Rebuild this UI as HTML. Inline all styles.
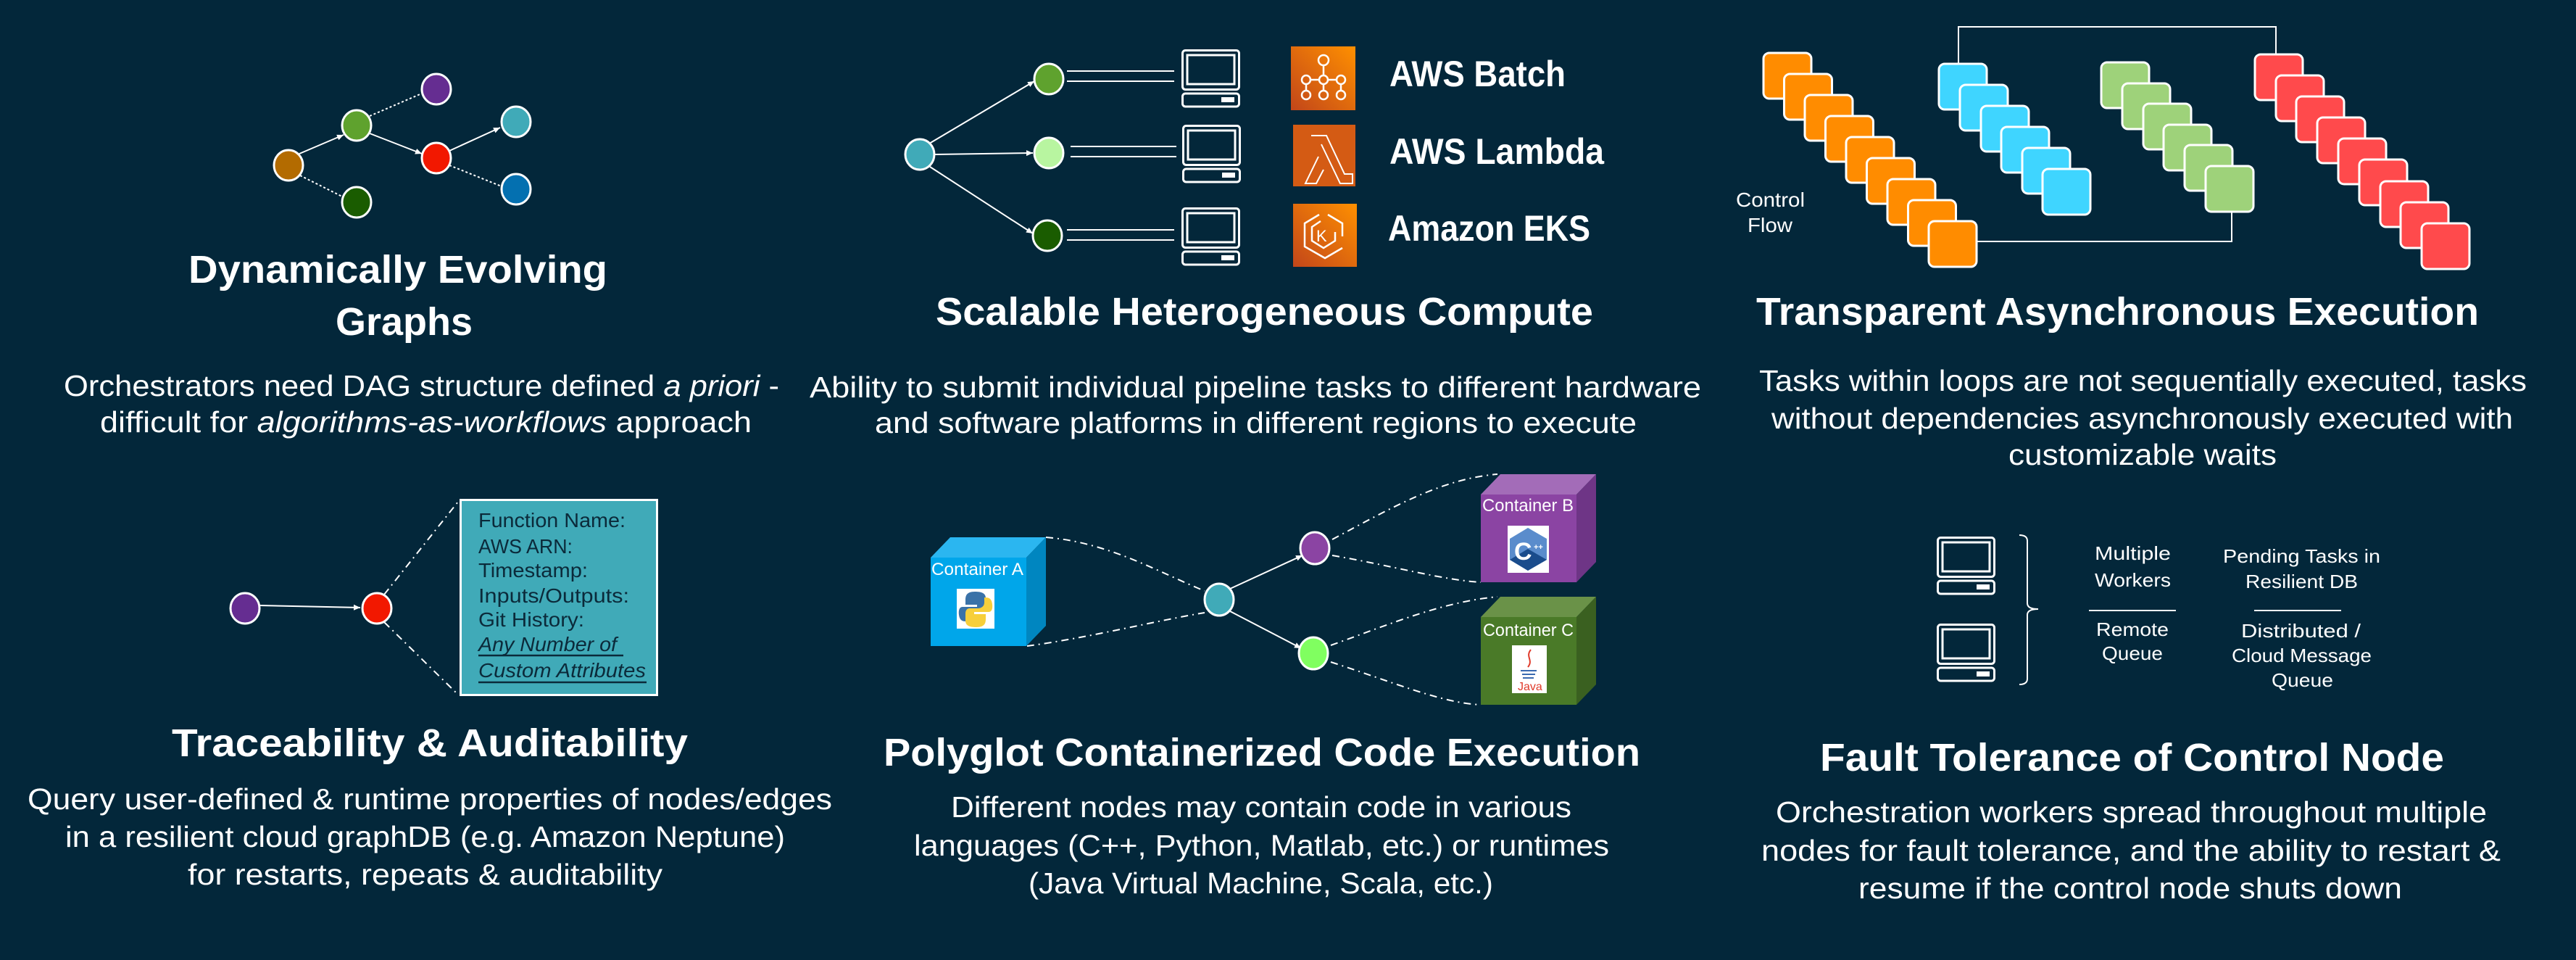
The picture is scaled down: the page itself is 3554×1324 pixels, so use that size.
<!DOCTYPE html>
<html><head><meta charset="utf-8"><style>
html,body{margin:0;padding:0;background:#03273a;}
svg{display:block;}
text{font-family:"Liberation Sans",sans-serif;fill:#fff;}
.t{font-weight:bold;font-size:54px;}
.b{font-size:41px;}
</style></head><body>
<svg width="3554" height="1324" viewBox="0 0 3554 1324" xmlns="http://www.w3.org/2000/svg">
<defs>
<marker id="ar" markerWidth="10" markerHeight="10" refX="9" refY="5" orient="auto" markerUnits="userSpaceOnUse"><path d="M0,1 L9,5 L0,9 z" fill="#fff"/></marker>
<linearGradient id="og" x1="0" y1="1" x2="1" y2="0"><stop offset="0" stop-color="#c2461a"/><stop offset="1" stop-color="#ff9000"/></linearGradient>
<g id="pc" fill="none" stroke="#fff" stroke-width="3">
<rect x="1.5" y="1.5" width="78" height="54" rx="4"/>
<rect x="8" y="8" width="65" height="40"/>
<rect x="1.5" y="61" width="78" height="18" rx="4"/>
<rect x="55" y="66" width="18" height="7" fill="#fff" stroke="none"/>
</g>
</defs>
<rect width="3554" height="1324" fill="#03273a"/>

<!-- Panel 1 -->
<g stroke="#fff" stroke-width="2" fill="none">
<line x1="413" y1="212" x2="474" y2="186" marker-end="url(#ar)"/>
<line x1="510" y1="184" x2="582" y2="212" marker-end="url(#ar)"/>
<line x1="620" y1="208" x2="690" y2="176" marker-end="url(#ar)"/>
<line x1="510" y1="160" x2="584" y2="128" stroke-dasharray="3 3"/>
<line x1="620" y1="228" x2="692" y2="257" stroke-dasharray="3 3"/>
<line x1="414" y1="242" x2="474" y2="272" stroke-dasharray="3 3"/>
</g>
<g stroke="#fff" stroke-width="3">
<ellipse cx="398" cy="228" rx="20" ry="21" fill="#b36b00"/>
<ellipse cx="492" cy="173" rx="20" ry="21" fill="#5fa22e"/>
<ellipse cx="602" cy="123" rx="20" ry="21" fill="#652d91"/>
<ellipse cx="602" cy="218" rx="20" ry="21" fill="#f21800"/>
<ellipse cx="712" cy="168" rx="20" ry="21" fill="#40aab8"/>
<ellipse cx="712" cy="261" rx="20" ry="21" fill="#0470b0"/>
<ellipse cx="492" cy="279" rx="20" ry="21" fill="#1a5c00"/>
</g>
<text class="t" x="260" y="390" textLength="578" lengthAdjust="spacingAndGlyphs">Dynamically Evolving</text>
<text class="t" x="463" y="462" textLength="189" lengthAdjust="spacingAndGlyphs">Graphs</text>
<text class="b" x="88" y="546" textLength="987" lengthAdjust="spacingAndGlyphs">Orchestrators need DAG structure defined <tspan font-style="italic">a priori</tspan> -</text>
<text class="b" x="138" y="596" textLength="899" lengthAdjust="spacingAndGlyphs">difficult for <tspan font-style="italic">algorithms-as-workflows</tspan> approach</text>

<!-- Panel 2 -->
<g stroke="#fff" stroke-width="2" fill="none">
<line x1="1282" y1="198" x2="1427" y2="112" marker-end="url(#ar)"/>
<line x1="1290" y1="213" x2="1425" y2="211" marker-end="url(#ar)"/>
<line x1="1283" y1="230" x2="1425" y2="322" marker-end="url(#ar)"/>
<line x1="1472" y1="98" x2="1620" y2="98"/><line x1="1472" y1="112" x2="1620" y2="112"/>
<line x1="1477" y1="202" x2="1623" y2="202"/><line x1="1477" y1="216" x2="1623" y2="216"/>
<line x1="1472" y1="317" x2="1620" y2="317"/><line x1="1472" y1="331" x2="1620" y2="331"/>
</g>
<g stroke="#fff" stroke-width="3">
<ellipse cx="1269" cy="213" rx="20" ry="21" fill="#40aab8"/>
<ellipse cx="1447" cy="109" rx="20" ry="21" fill="#5fa22e"/>
<ellipse cx="1447" cy="211" rx="20" ry="21" fill="#b8f5a0"/>
<ellipse cx="1445" cy="325" rx="20" ry="21" fill="#1a5c00"/>
</g>
<use href="#pc" x="1630" y="68"/>
<use href="#pc" x="1631" y="172"/>
<use href="#pc" x="1630" y="286"/>
<rect x="1781" y="64" width="89" height="88" fill="url(#og)"/>
<g fill="none" stroke="#fff" stroke-width="2.5">
<circle cx="1826" cy="83" r="7"/><circle cx="1802" cy="110" r="6"/><circle cx="1826" cy="110" r="6"/><circle cx="1850" cy="110" r="6"/>
<circle cx="1802" cy="131" r="6"/><circle cx="1826" cy="131" r="6"/><circle cx="1850" cy="131" r="6"/>
<path d="M1826,90V104M1808,110H1820M1832,110H1844M1802,116V125M1826,116V125M1850,116V125"/>
</g>
<rect x="1784" y="172" width="86" height="85" fill="#d45b14"/>
<path d="M1809,187H1830L1855,240H1866V253H1849L1823,199 M1819,216L1801,253H1816L1826,234" fill="none" stroke="#fff" stroke-width="2"/>
<rect x="1784" y="281" width="88" height="87" fill="url(#og)"/>
<g fill="none" stroke="#fff" stroke-width="2.5">
<path d="M1820,296L1800,308V340L1828,356L1852,342M1832,296L1852,308V326"/>
<path d="M1822,305L1810,313V332L1826,342L1842,332V320"/>
</g>
<text x="1816" y="333" font-size="22" style="fill:#fff">K</text>
<text x="1917" y="119" font-weight="bold" font-size="50" textLength="243" lengthAdjust="spacingAndGlyphs">AWS Batch</text>
<text x="1917" y="226" font-weight="bold" font-size="50" textLength="296" lengthAdjust="spacingAndGlyphs">AWS Lambda</text>
<text x="1915" y="332" font-weight="bold" font-size="50" textLength="279" lengthAdjust="spacingAndGlyphs">Amazon EKS</text>
<text class="t" x="1291" y="448" textLength="907" lengthAdjust="spacingAndGlyphs">Scalable Heterogeneous Compute</text>
<text class="b" x="1117" y="548" textLength="1230" lengthAdjust="spacingAndGlyphs">Ability to submit individual pipeline tasks to different hardware</text>
<text class="b" x="1207" y="597" textLength="1051" lengthAdjust="spacingAndGlyphs">and software platforms in different regions to execute</text>

<!-- Panel 3 -->
<g stroke="#fff" stroke-width="2" fill="none">
<polyline points="2702,90 2702,37 3140,37 3140,77"/>
<polyline points="2728,333 3079,333 3079,292"/>
</g>
<g stroke="#fff" stroke-width="3">
<g fill="#ff8c00">
<rect x="2433" y="73" width="66" height="63" rx="8"/><rect x="2461.5" y="102" width="66" height="63" rx="8"/><rect x="2490" y="131" width="66" height="63" rx="8"/><rect x="2518.5" y="160" width="66" height="63" rx="8"/><rect x="2547" y="189" width="66" height="63" rx="8"/><rect x="2575.5" y="218" width="66" height="63" rx="8"/><rect x="2604" y="247" width="66" height="63" rx="8"/><rect x="2632.5" y="276" width="66" height="63" rx="8"/><rect x="2661" y="305" width="66" height="63" rx="8"/>
</g>
<g fill="#3fd5ff">
<rect x="2675" y="88" width="66" height="63" rx="8"/><rect x="2704" y="117" width="66" height="63" rx="8"/><rect x="2733" y="146" width="66" height="63" rx="8"/><rect x="2761" y="175" width="66" height="63" rx="8"/><rect x="2790" y="204" width="66" height="63" rx="8"/><rect x="2818" y="233" width="66" height="63" rx="8"/>
</g>
<g fill="#9ed27a">
<rect x="2899" y="86" width="66" height="63" rx="8"/><rect x="2928" y="115" width="66" height="63" rx="8"/><rect x="2957" y="143" width="66" height="63" rx="8"/><rect x="2985" y="172" width="66" height="63" rx="8"/><rect x="3014" y="200" width="66" height="63" rx="8"/><rect x="3043" y="229" width="66" height="63" rx="8"/>
</g>
<g fill="#ff4a4c">
<rect x="3111" y="75" width="66" height="63" rx="8"/><rect x="3140" y="104" width="66" height="63" rx="8"/><rect x="3168" y="133" width="66" height="63" rx="8"/><rect x="3197" y="162" width="66" height="63" rx="8"/><rect x="3226" y="191" width="66" height="63" rx="8"/><rect x="3255" y="220" width="66" height="63" rx="8"/><rect x="3284" y="250" width="66" height="63" rx="8"/><rect x="3312" y="279" width="66" height="63" rx="8"/><rect x="3341" y="308" width="66" height="63" rx="8"/>
</g>
</g>
<text x="2395" y="285" font-size="28" textLength="95" lengthAdjust="spacingAndGlyphs">Control</text>
<text x="2411" y="320" font-size="28" textLength="62" lengthAdjust="spacingAndGlyphs">Flow</text>
<text class="t" x="2423" y="448" textLength="997" lengthAdjust="spacingAndGlyphs">Transparent Asynchronous Execution</text>
<text class="b" x="2427" y="539" textLength="1059" lengthAdjust="spacingAndGlyphs">Tasks within loops are not sequentially executed, tasks</text>
<text class="b" x="2444" y="591" textLength="1023" lengthAdjust="spacingAndGlyphs">without dependencies asynchronously executed with</text>
<text class="b" x="2771" y="641" textLength="370" lengthAdjust="spacingAndGlyphs">customizable waits</text>

<!-- Panel 4 -->
<g stroke="#fff" stroke-width="2" fill="none">
<line x1="358" y1="835" x2="497" y2="838" marker-end="url(#ar)"/>
<line x1="530" y1="820" x2="632" y2="692" stroke-dasharray="10 6 2 6"/>
<line x1="530" y1="858" x2="632" y2="958" stroke-dasharray="10 6 2 6"/>
</g>
<g stroke="#fff" stroke-width="3">
<ellipse cx="338" cy="839" rx="20" ry="21" fill="#652d91"/>
<ellipse cx="520" cy="839" rx="20" ry="21" fill="#f21800"/>
</g>
<rect x="635.5" y="689.5" width="271" height="269" fill="#40aab8" stroke="#fff" stroke-width="3"/>
<g font-size="28" style="fill:#0b2a3a">
<text x="660" y="727" textLength="203" lengthAdjust="spacingAndGlyphs" style="fill:#0b2a3a">Function Name:</text>
<text x="660" y="763" textLength="130" lengthAdjust="spacingAndGlyphs" style="fill:#0b2a3a">AWS ARN:</text>
<text x="660" y="796" textLength="151" lengthAdjust="spacingAndGlyphs" style="fill:#0b2a3a">Timestamp:</text>
<text x="660" y="831" textLength="208" lengthAdjust="spacingAndGlyphs" style="fill:#0b2a3a">Inputs/Outputs:</text>
<text x="660" y="864" textLength="146" lengthAdjust="spacingAndGlyphs" style="fill:#0b2a3a">Git History:</text>
<text x="660" y="898" font-style="italic" textLength="191" lengthAdjust="spacingAndGlyphs" style="fill:#0b2a3a">Any Number of</text>
<text x="660" y="934" font-style="italic" textLength="231" lengthAdjust="spacingAndGlyphs" style="fill:#0b2a3a">Custom Attributes</text>
</g>
<line x1="660" y1="904" x2="860" y2="904" stroke="#0b2a3a" stroke-width="2.5"/>
<line x1="660" y1="941" x2="892" y2="941" stroke="#0b2a3a" stroke-width="2.5"/>
<text class="t" x="237" y="1043" textLength="712" lengthAdjust="spacingAndGlyphs">Traceability &amp; Auditability</text>
<text class="b" x="38" y="1116" textLength="1110" lengthAdjust="spacingAndGlyphs">Query user-defined &amp; runtime properties of nodes/edges</text>
<text class="b" x="90" y="1168" textLength="993" lengthAdjust="spacingAndGlyphs">in a resilient cloud graphDB (e.g. Amazon Neptune)</text>
<text class="b" x="259" y="1220" textLength="655" lengthAdjust="spacingAndGlyphs">for restarts, repeats &amp; auditability</text>

<!-- Panel 5 -->
<g stroke="#fff" stroke-width="2" fill="none" stroke-dasharray="10 6 2 6">
<path d="M1443,741 C1530,748 1600,790 1662,815"/>
<path d="M1417,891 C1500,880 1600,855 1662,845"/>
<path d="M1838,744 C1920,700 1990,660 2066,654"/>
<path d="M1838,766 C1920,780 1990,800 2043,803"/>
<path d="M1836,890 C1920,860 1990,830 2066,823"/>
<path d="M1836,913 C1920,940 1990,970 2043,972"/>
</g>
<g stroke="#fff" stroke-width="2" fill="none">
<line x1="1697" y1="812" x2="1797" y2="766" marker-end="url(#ar)"/>
<line x1="1697" y1="843" x2="1795" y2="894" marker-end="url(#ar)"/>
</g>
<g stroke="#fff" stroke-width="3">
<ellipse cx="1682" cy="827" rx="20" ry="22" fill="#40aab8"/>
<ellipse cx="1814" cy="756" rx="20" ry="22" fill="#8b44a3"/>
<ellipse cx="1812" cy="901" rx="20" ry="22" fill="#80ff60"/>
</g>
<!-- Container A -->
<polygon points="1284,769 1311,741 1443,741 1416,769" fill="#2bb6f0"/>
<polygon points="1416,769 1443,741 1443,863 1416,891" fill="#0086c0"/>
<rect x="1284" y="769" width="132" height="122" fill="#00a6ea"/>
<text x="1285" y="793" font-size="24" textLength="127" lengthAdjust="spacingAndGlyphs">Container A</text>
<rect x="1320" y="812" width="52" height="55" fill="#fff"/>
<path d="M1345,816 C1333,816 1332,822 1332,828 V834 H1348 V837 H1328 C1322,837 1322,846 1324,852 C1326,857 1330,857 1334,857 V850 C1334,845 1338,842 1343,842 H1354 C1358,842 1360,839 1360,835 V825 C1360,818 1354,816 1345,816Z" fill="#3a72a8"/>
<path d="M1347,865 C1359,865 1360,859 1360,853 V847 H1344 V844 H1364 C1370,844 1370,835 1368,829 C1366,824 1362,824 1358,824 V831 C1358,836 1354,839 1349,839 H1338 C1334,839 1332,842 1332,846 V856 C1332,863 1338,865 1347,865Z" fill="#f7cf3a"/>
<!-- Container B -->
<polygon points="2043,682 2070,654 2202,654 2175,682" fill="#a36cb8"/>
<polygon points="2175,682 2202,654 2202,775 2175,803" fill="#6e3586"/>
<rect x="2043" y="682" width="132" height="121" fill="#8b44a3"/>
<text x="2045" y="705" font-size="24" textLength="126" lengthAdjust="spacingAndGlyphs">Container B</text>
<rect x="2080" y="725" width="57" height="65" fill="#fff"/>
<polygon points="2108,728 2134,743 2134,772 2108,787 2083,772 2083,743" fill="#5a8ccc"/>
<polygon points="2108,757 2134,772 2108,787 2083,772" fill="#1a4c8c"/>
<text x="2089" y="772" font-size="34" font-weight="bold">C</text>
<text x="2116" y="758" font-size="11" font-weight="bold">++</text>
<!-- Container C -->
<polygon points="2043,851 2070,823 2202,823 2175,851" fill="#6a9248"/>
<polygon points="2175,851 2202,823 2202,944 2175,972" fill="#3a6020"/>
<rect x="2043" y="851" width="132" height="121" fill="#4a7a28"/>
<text x="2046" y="877" font-size="24" textLength="125" lengthAdjust="spacingAndGlyphs">Container C</text>
<rect x="2086" y="890" width="48" height="66" fill="#fff"/>
<path d="M2112,896 C2104,906 2116,910 2108,920" stroke="#e03a2a" stroke-width="2" fill="none"/>
<path d="M2098,925 H2120 M2100,930 H2118 M2101,935 H2116" stroke="#3a6ab0" stroke-width="2"/>
<text x="2094" y="952" font-size="16" style="fill:#e03a2a">Java</text>
<text class="t" x="1219" y="1056" textLength="1044" lengthAdjust="spacingAndGlyphs">Polyglot Containerized Code Execution</text>
<text class="b" x="1312" y="1127" textLength="856" lengthAdjust="spacingAndGlyphs">Different nodes may contain code in various</text>
<text class="b" x="1261" y="1180" textLength="959" lengthAdjust="spacingAndGlyphs">languages (C++, Python, Matlab, etc.) or runtimes</text>
<text class="b" x="1419" y="1232" textLength="641" lengthAdjust="spacingAndGlyphs">(Java Virtual Machine, Scala, etc.)</text>

<!-- Panel 6 -->
<use href="#pc" x="2672" y="740"/>
<use href="#pc" x="2672" y="860"/>
<path d="M2786,738 Q2797,738 2797,746 V832 Q2797,840 2812,840 Q2797,840 2797,848 V936 Q2797,944 2786,944" fill="none" stroke="#fff" stroke-width="2"/>
<line x1="2882" y1="842" x2="3002" y2="842" stroke="#fff" stroke-width="2"/>
<line x1="3110" y1="842" x2="3230" y2="842" stroke="#fff" stroke-width="2"/>
<g font-size="26">
<text x="2890" y="772" textLength="105" lengthAdjust="spacingAndGlyphs">Multiple</text>
<text x="2890" y="809" textLength="105" lengthAdjust="spacingAndGlyphs">Workers</text>
<text x="2892" y="877" textLength="100" lengthAdjust="spacingAndGlyphs">Remote</text>
<text x="2900" y="910" textLength="84" lengthAdjust="spacingAndGlyphs">Queue</text>
<text x="3067" y="776" textLength="217" lengthAdjust="spacingAndGlyphs">Pending Tasks in</text>
<text x="3098" y="811" textLength="155" lengthAdjust="spacingAndGlyphs">Resilient DB</text>
<text x="3092" y="879" textLength="165" lengthAdjust="spacingAndGlyphs">Distributed /</text>
<text x="3079" y="913" textLength="193" lengthAdjust="spacingAndGlyphs">Cloud Message</text>
<text x="3134" y="947" textLength="85" lengthAdjust="spacingAndGlyphs">Queue</text>
</g>
<text class="t" x="2511" y="1063" textLength="861" lengthAdjust="spacingAndGlyphs">Fault Tolerance of Control Node</text>
<text class="b" x="2450" y="1134" textLength="981" lengthAdjust="spacingAndGlyphs">Orchestration workers spread throughout multiple</text>
<text class="b" x="2430" y="1187" textLength="1020" lengthAdjust="spacingAndGlyphs">nodes for fault tolerance, and the ability to restart &amp;</text>
<text class="b" x="2564" y="1239" textLength="750" lengthAdjust="spacingAndGlyphs">resume if the control node shuts down</text>
</svg>
</body></html>
